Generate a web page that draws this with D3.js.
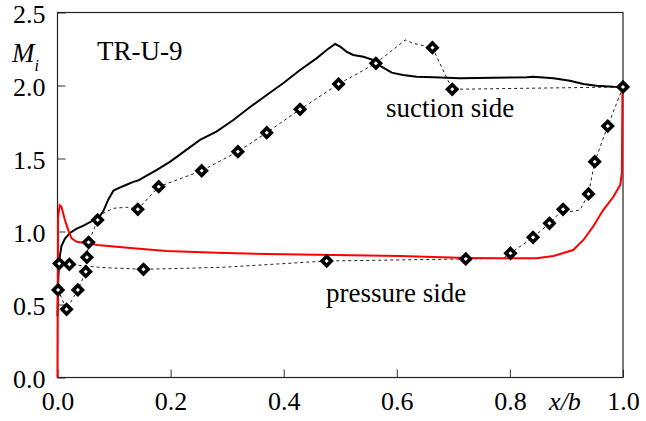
<!DOCTYPE html>
<html>
<head>
<meta charset="utf-8">
<script src="https://cdn.jsdelivr.net/npm/d3@7"></script>
<style>
  body { margin: 0; background: #fff; }
</style>
</head>
<body>
<svg width="646" height="421"></svg>
<script>
// suction side, computed (black solid)
var sucX = [0, 0.002, 0.007, 0.013, 0.022, 0.034, 0.046, 0.060, 0.072, 0.081, 0.090, 0.099, 0.110, 0.122, 0.134, 0.143, 0.175, 0.200, 0.252, 0.281, 0.311, 0.340, 0.370, 0.399, 0.429, 0.458, 0.476, 0.491, 0.500, 0.511, 0.523, 0.541, 0.558, 0.573, 0.591, 0.611, 0.635, 0.665, 0.712, 0.830, 0.841, 0.877, 0.906, 0.930, 0.953, 0.983, 1.0];
var sucM = [0.42, 0.78, 0.90, 0.95, 0.99, 1.02, 1.04, 1.07, 1.09, 1.14, 1.22, 1.28, 1.30, 1.32, 1.34, 1.35, 1.42, 1.48, 1.627, 1.684, 1.764, 1.851, 1.935, 2.015, 2.106, 2.186, 2.243, 2.284, 2.266, 2.232, 2.209, 2.197, 2.175, 2.129, 2.088, 2.072, 2.060, 2.056, 2.049, 2.056, 2.060, 2.049, 2.033, 2.010, 1.999, 1.992, 1.99];

// pressure side, computed (red solid)
var presX = [0, 0.001, 0.004, 0.007, 0.013, 0.019, 0.025, 0.034, 0.052, 0.075, 0.134, 0.193, 0.281, 0.370, 0.488, 0.606, 0.724, 0.782, 0.847, 0.877, 0.912, 0.930, 0.947, 0.965, 0.983, 0.995, 0.998, 0.999, 1.0];
var presM = [0, 1.10, 1.18, 1.17, 1.08, 1.01, 0.953, 0.930, 0.919, 0.905, 0.885, 0.867, 0.855, 0.846, 0.839, 0.832, 0.818, 0.816, 0.816, 0.832, 0.873, 0.942, 1.033, 1.147, 1.238, 1.318, 1.40, 1.97, 1.99];

// experiment, dashed path (pressure side TE -> LE, then suction side LE -> TE)
var expX = [1.0, 0.973, 0.950, 0.939, 0.924, 0.906, 0.894, 0.870, 0.841, 0.801, 0.788, 0.722, 0.476, 0.293, 0.152, 0.075, 0.021, 0.003, 0.001, 0.016, 0.036, 0.050, 0.052, 0.055, 0.071, 0.081, 0.099, 0.122, 0.142, 0.179, 0.255, 0.319, 0.370, 0.429, 0.497, 0.563, 0.615, 0.629, 0.663, 0.698, 1.0];
var expM = [1.99, 1.722, 1.478, 1.257, 1.147, 1.136, 1.152, 1.056, 0.960, 0.851, 0.816, 0.812, 0.798, 0.755, 0.741, 0.754, 0.775, 0.78, 0.60, 0.467, 0.60, 0.725, 0.823, 0.926, 1.079, 1.125, 1.159, 1.166, 1.152, 1.307, 1.416, 1.547, 1.677, 1.837, 2.010, 2.152, 2.312, 2.289, 2.259, 1.974, 1.99];

// measured points (diamonds)
var mkX = [1.0, 0.973, 0.950, 0.939, 0.894, 0.870, 0.841, 0.801, 0.722, 0.476, 0.152, 0.021, 0.003, 0.001, 0.016, 0.036, 0.050, 0.052, 0.055, 0.071, 0.142, 0.179, 0.255, 0.319, 0.370, 0.429, 0.497, 0.563, 0.663, 0.698];
var mkM = [1.99, 1.722, 1.478, 1.257, 1.152, 1.056, 0.960, 0.851, 0.812, 0.798, 0.741, 0.775, 0.78, 0.60, 0.467, 0.60, 0.725, 0.823, 0.926, 1.079, 1.152, 1.307, 1.416, 1.547, 1.677, 1.837, 2.010, 2.152, 2.259, 1.974];

var xTicks = [0, 0.2, 0.4, 0.6, 0.8, 1.0];
var yTicks = [0, 0.5, 1.0, 1.5, 2.0, 2.5];

var serif = "'Liberation Serif', 'Times New Roman', Times, 'DejaVu Serif', serif";

var svg = d3.select("svg"),
  margin = { top: 12.5, right: 23, bottom: 43.5, left: 57.5 },
  width = +svg.attr("width") - margin.left - margin.right,
  height = +svg.attr("height") - margin.top - margin.bottom,
  g = svg.append("g")
    .attr("transform", "translate(" + margin.left + "," + margin.top + ")");

var x = d3.scaleLinear().domain([0, 1]).range([0, width]);
var y = d3.scaleLinear().domain([0, 2.5]).range([height, 0]);

function pts(xs, ys) {
  return xs.map(function(v, i) { return [v, ys[i]]; });
}

var line = d3.line()
  .x(function(d) { return x(d[0]); })
  .y(function(d) { return y(d[1]); });

// axes
var xAxis = g.append("g")
  .attr("transform", "translate(0," + height + ")")
  .call(d3.axisBottom(x).tickValues(xTicks).tickSize(-8).tickPadding(14)
    .tickFormat(d3.format(".1f")));
xAxis.attr("font-family", null).attr("font-size", null);
xAxis.select(".domain").remove();
xAxis.selectAll("text").style("font-family", serif).style("font-size", "26px").attr("fill", "#000");
xAxis.selectAll("line").attr("stroke", "#333");

var yAxis = g.append("g")
  .call(d3.axisLeft(y).tickValues(yTicks).tickSize(-8).tickPadding(12)
    .tickFormat(d3.format(".1f")));
yAxis.attr("font-family", null).attr("font-size", null);
yAxis.select(".domain").remove();
yAxis.selectAll("text").style("font-family", serif).style("font-size", "26px")
  .attr("fill", "#000").attr("dy", "0.4em");
yAxis.selectAll("line").attr("stroke", "#333");

// frame
g.append("rect")
  .attr("width", width)
  .attr("height", height)
  .attr("fill", "none")
  .attr("stroke", "#222")
  .attr("stroke-width", 1.2);

// experiment dashed line
g.append("path")
  .datum(pts(expX, expM))
  .attr("fill", "none")
  .attr("stroke", "#222")
  .attr("stroke-width", 1)
  .attr("stroke-dasharray", "3,3")
  .attr("d", line);

// computed lines
g.append("path")
  .datum(pts(sucX, sucM))
  .attr("fill", "none")
  .attr("stroke", "#000")
  .attr("stroke-width", 2)
  .attr("d", line);

g.append("path")
  .datum(pts(presX, presM))
  .attr("fill", "none")
  .attr("stroke", "#ff0000")
  .attr("stroke-width", 2)
  .attr("d", line);

// diamonds
g.selectAll(".mk")
  .data(pts(mkX, mkM))
  .enter()
  .append("path")
  .attr("class", "mk")
  .attr("transform", function(d) { return "translate(" + x(d[0]) + "," + y(d[1]) + ")"; })
  .attr("d", "M0,-4.6L4.6,0L0,4.6L-4.6,0Z")
  .attr("fill", "#fff")
  .attr("stroke", "#000")
  .attr("stroke-width", 3.6);

// labels
function label(tx, ty, s, size) {
  return svg.append("text")
    .attr("x", tx).attr("y", ty)
    .style("font-family", serif)
    .style("font-size", size + "px")
    .text(s);
}
label(97, 60, "TR-U-9", 27);
label(386, 117, "suction side", 27);
label(326, 302, "pressure side", 27);

var mLabel = svg.append("text")
  .attr("x", 12).attr("y", 62)
  .style("font-family", serif)
  .style("font-size", "27px")
  .style("font-style", "italic");
mLabel.append("tspan").text("M");
mLabel.append("tspan").attr("dy", 9).style("font-size", "16px").text("i");

label(565, 410, "x/b", 26)
  .attr("text-anchor", "middle")
  .style("font-style", "italic");
</script>
</body>
</html>
